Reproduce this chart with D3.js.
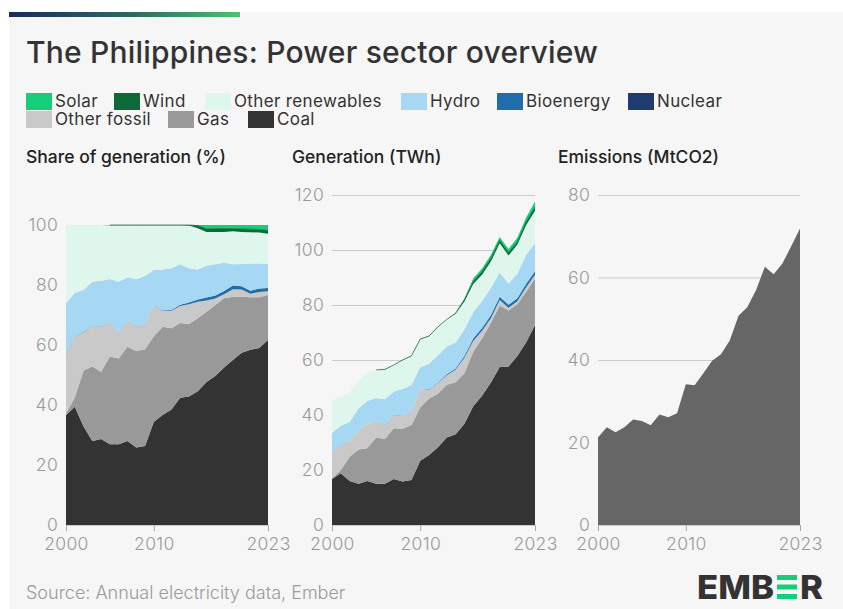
<!DOCTYPE html>
<html>
<head>
<meta charset="utf-8">
<script src="https://cdn.jsdelivr.net/npm/d3@7"></script>
<style>
  body { margin: 0; background: #fff; }
  text { font-family: Inter, "Noto Sans", sans-serif; }
</style>
</head>
<body>
<div id="chart"></div>
<script>
const years = d3.range(2000, 2024);

const keys = ["coal", "gas", "otherFossil", "nuclear", "bioenergy", "hydro", "otherRenewables", "wind", "solar"];
const colors = {
  solar: "#14cf77", wind: "#0b6a38", otherRenewables: "#def6ec", hydro: "#a6d8f3",
  bioenergy: "#1f6eab", nuclear: "#1e3c70", otherFossil: "#c9c9c9", gas: "#999999", coal: "#333333"
};
const legendRow1 = [["solar", "Solar"], ["wind", "Wind"], ["otherRenewables", "Other renewables"], ["hydro", "Hydro"], ["bioenergy", "Bioenergy"], ["nuclear", "Nuclear"]];
const legendRow2 = [["otherFossil", "Other fossil"], ["gas", "Gas"], ["coal", "Coal"]];

// share of generation (%)
const shareCoal = [36.7, 39.4, 32.8, 28.0, 28.7, 26.9, 26.9, 28.0, 25.8, 26.3, 34.4, 36.7, 38.5, 42.4, 42.8, 44.6, 47.7, 49.7, 52.5, 55.0, 57.4, 58.4, 59.0, 61.7];
const shareGas = [0.5, 3.1, 18.7, 24.8, 22.4, 29.3, 28.6, 31.4, 32.2, 32.3, 28.5, 29.4, 27.1, 24.9, 24.2, 24.3, 23.4, 23.6, 23.1, 21.1, 18.7, 17.5, 16.9, 15.0];
const shareOtherFossil = [20.0, 20.3, 12.7, 13.6, 15.0, 11.2, 8.6, 8.6, 8.1, 8.3, 10.4, 5.3, 5.8, 5.7, 6.6, 5.5, 3.7, 2.2, 1.3, 2.5, 2.4, 1.2, 1.8, 1.2];
const shareNuclear = [0, 0, 0, 0, 0, 0, 0, 0, 0, 0, 0, 0, 0, 0, 0, 0, 0, 0, 0, 0, 0, 0, 0, 0];
const shareBio = [0.1, 0.1, 0.1, 0.1, 0.1, 0.1, 0.1, 0.1, 0.1, 0.1, 0.1, 0.2, 0.3, 0.4, 0.6, 0.8, 1.0, 1.0, 1.1, 1.2, 1.1, 1.0, 1.1, 1.1];
const shareHydro = [16.6, 14.5, 14.0, 14.6, 15.2, 14.5, 16.9, 14.5, 15.7, 16.0, 11.6, 13.6, 13.9, 13.5, 11.4, 10.0, 10.6, 10.4, 9.4, 7.1, 7.4, 9.1, 8.4, 8.0];
const shareOtherRen = [26.1, 22.6, 21.7, 18.9, 18.6, 17.9, 18.8, 17.3, 18.0, 16.9, 14.9, 14.7, 14.3, 13.0, 14.2, 13.7, 11.3, 10.8, 10.3, 11.0, 10.7, 10.4, 10.3, 10.1];
const shareWind = [0, 0, 0, 0, 0, 0.1, 0.1, 0.1, 0.1, 0.1, 0.1, 0.1, 0.1, 0.1, 0.2, 0.9, 1.0, 1.1, 1.1, 0.9, 1.0, 1.0, 1.0, 1.1];
const shareSolar = [0, 0, 0, 0, 0, 0, 0, 0, 0, 0, 0, 0, 0, 0, 0, 0.2, 1.3, 1.2, 1.2, 1.2, 1.3, 1.4, 1.5, 1.8];

// generation (TWh)
const genCoal = [16.7, 18.8, 16.0, 15.0, 16.0, 15.0, 15.0, 16.7, 15.8, 16.4, 23.4, 25.5, 28.3, 31.8, 33.0, 36.8, 43.2, 47.0, 51.8, 57.5, 57.6, 61.5, 66.5, 72.7];
const genGas = [0.3, 1.2, 8.8, 12.5, 11.9, 16.8, 16.3, 18.5, 19.2, 20.0, 19.4, 20.5, 19.4, 19.2, 18.9, 18.4, 19.8, 20.8, 21.7, 22.3, 20.4, 18.8, 18.3, 16.9];
const genOtherFossil = [9.1, 9.0, 5.8, 7.1, 8.7, 6.1, 5.1, 4.8, 4.8, 4.6, 6.8, 3.2, 3.9, 3.5, 4.6, 5.6, 3.9, 2.8, 1.7, 2.0, 1.0, 1.1, 1.7, 1.4];
const genNuclear = [0, 0, 0, 0, 0, 0, 0, 0, 0, 0, 0, 0, 0, 0, 0, 0, 0, 0, 0, 0, 0, 0, 0, 0];
const genBio = [0.05, 0.05, 0.05, 0.05, 0.05, 0.05, 0.05, 0.05, 0.05, 0.05, 0.05, 0.15, 0.2, 0.3, 0.45, 0.65, 0.9, 1.0, 1.1, 1.2, 1.1, 1.1, 1.2, 1.3];
const genHydro = [7.3, 7.0, 6.8, 7.7, 8.4, 8.2, 9.3, 8.5, 9.6, 9.9, 7.7, 9.3, 9.9, 10.1, 9.4, 9.6, 9.6, 9.9, 9.9, 8.9, 7.7, 8.9, 10.6, 10.1];
const genOtherRen = [12.1, 10.4, 10.7, 10.2, 10.5, 10.2, 10.8, 9.6, 10.5, 10.5, 10.2, 10.0, 10.3, 9.8, 10.5, 10.2, 10.2, 9.5, 9.6, 10.6, 10.2, 10.6, 10.8, 11.9];
const genWind = [0, 0, 0, 0, 0, 0.05, 0.05, 0.06, 0.06, 0.06, 0.06, 0.09, 0.07, 0.07, 0.15, 0.75, 0.95, 1.1, 1.15, 1.0, 1.0, 1.0, 1.1, 1.3];
const genSolar = [0, 0, 0, 0, 0, 0, 0, 0, 0, 0, 0, 0, 0, 0, 0.02, 0.15, 1.1, 1.2, 1.2, 1.25, 1.35, 1.45, 1.6, 2.0];

// emissions (MtCO2)
const emissions = [21.2, 23.7, 22.5, 23.7, 25.6, 25.2, 24.2, 26.8, 26.1, 27.1, 34.1, 33.9, 36.8, 39.8, 41.4, 44.7, 50.7, 52.8, 57.0, 62.6, 60.8, 63.4, 67.6, 71.9];

const xTicks = [2000, 2010, 2023];
const shareTicks = [0, 20, 40, 60, 80, 100];
const genTicks = [0, 20, 40, 60, 80, 100, 120];
const emTicks = [0, 20, 40, 60, 80];

function rows(series) {
  return years.map((y, i) => {
    const r = { year: y };
    keys.forEach((k, j) => r[k] = series[j][i]);
    return r;
  });
}
const shareRows = rows([shareCoal, shareGas, shareOtherFossil, shareNuclear, shareBio, shareHydro, shareOtherRen, shareWind, shareSolar]);
const genRows = rows([genCoal, genGas, genOtherFossil, genNuclear, genBio, genHydro, genOtherRen, genWind, genSolar]);

const W = 843, H = 609;
const svg = d3.select("#chart").append("svg").attr("width", W).attr("height", H);

svg.append("rect").attr("x", 9).attr("y", 12).attr("width", W - 9).attr("height", H - 12).attr("fill", "#f6f6f6");
const grad = svg.append("defs").append("linearGradient").attr("id", "topbar");
grad.append("stop").attr("offset", "0%").attr("stop-color", "#1e2a5a");
grad.append("stop").attr("offset", "55%").attr("stop-color", "#2f6b62");
grad.append("stop").attr("offset", "100%").attr("stop-color", "#4fc173");
svg.append("rect").attr("x", 9).attr("y", 12).attr("width", 231).attr("height", 5).attr("fill", "url(#topbar)");

svg.append("text").attr("x", 26).attr("y", 63).attr("font-size", 30).attr("font-weight", 500)
  .attr("letter-spacing", 0.2).attr("fill", "#333").text("The Philippines: Power sector overview");

// legend
const legendX1 = [26, 114, 205, 401, 497, 628];
const legendX2 = [26, 168, 248];
function legendRow(items, xs, y) {
  items.forEach(([k, label], i) => {
    svg.append("rect").attr("x", xs[i]).attr("y", y).attr("width", 26).attr("height", 17).attr("fill", colors[k]);
    svg.append("text").attr("x", xs[i] + 29).attr("y", y + 14).attr("font-size", 17)
      .attr("letter-spacing", 0.35).attr("fill", "#333").text(label);
  });
}
legendRow(legendRow1, legendX1, 93);
legendRow(legendRow2, legendX2, 111);

function panel(opts) {
  const x = d3.scaleLinear().domain([2000, 2023]).range([opts.x0, opts.x1]);
  const y = d3.scaleLinear().domain([0, opts.max]).range([525, 525 - opts.h]);
  const g = svg.append("g");

  g.append("text").attr("x", opts.titleX).attr("y", 163).attr("font-size", 17.5).attr("font-weight", 500)
    .attr("fill", "#222").text(opts.title);

  const yAxis = g.append("g").attr("transform", `translate(${opts.x0},0)`)
    .call(d3.axisLeft(y).tickValues(opts.ticks).tickSize(-(opts.x1 - opts.x0)).tickPadding(8));
  yAxis.select(".domain").remove();
  yAxis.selectAll("line").attr("stroke", "#cccccc");
  yAxis.selectAll("text").attr("font-size", 17.5).attr("font-weight", 300).attr("fill", "#9a9a9a")
    .attr("letter-spacing", 0.3).attr("font-family", "Inter, sans-serif");

  opts.draw(g, x, y);

  const xAxis = g.append("g").attr("transform", "translate(0,525)")
    .call(d3.axisBottom(x).tickValues(xTicks).tickFormat(d3.format("d")).tickSize(6).tickPadding(7));
  xAxis.select(".domain").remove();
  xAxis.selectAll("line").attr("stroke", "#aaaaaa");
  xAxis.selectAll("text").attr("font-size", 17.5).attr("font-weight", 300).attr("fill", "#9a9a9a")
    .attr("letter-spacing", 0.3).attr("font-family", "Inter, sans-serif");
}

function stackedAreas(data) {
  return function (g, x, y) {
    const series = d3.stack().keys(keys)(data);
    const area = d3.area().x(d => x(d.data.year)).y0(d => y(d[0])).y1(d => y(d[1]));
    g.selectAll(".layer").data(series.filter(s => d3.max(s, d => d[1] - d[0]) > 0)).join("path")
      .attr("class", "layer")
      .attr("d", area)
      .attr("fill", s => colors[s.key]);
    // thin wind outline so small early values stay visible
    const wind = series.find(s => s.key === "wind");
    g.append("path").datum(wind)
      .attr("d", d3.line().defined(d => d[1] - d[0] > 0).x(d => x(d.data.year)).y(d => y(d[1])))
      .attr("fill", "none").attr("stroke", colors.wind).attr("stroke-width", 0.7);
  };
}

panel({ title: "Share of generation (%)", titleX: 26, x0: 66, x1: 268, max: 100, h: 300, ticks: shareTicks, draw: stackedAreas(shareRows) });
panel({ title: "Generation (TWh)", titleX: 292, x0: 332, x1: 535, max: 120, h: 330, ticks: genTicks, draw: stackedAreas(genRows) });
panel({
  title: "Emissions (MtCO2)", titleX: 558, x0: 598, x1: 800, max: 80, h: 330, ticks: emTicks,
  draw: (g, x, y) => {
    g.append("path").datum(emissions)
      .attr("d", d3.area().x((d, i) => x(years[i])).y0(y(0)).y1(d => y(d)))
      .attr("fill", "#666666");
  }
});

svg.append("text").attr("x", 26).attr("y", 599).attr("font-size", 18).attr("font-weight", 300)
  .attr("fill", "#9a9a9a").text("Source: Annual electricity data, Ember");

// logo
const logo = svg.append("g");
logo.append("text").attr("x", 697).attr("y", 599).attr("font-size", 33).attr("font-weight", 800)
  .attr("fill", "#333").attr("textLength", 77).attr("lengthAdjust", "spacingAndGlyphs").text("EMB");
[575, 584.5, 594].forEach(yy => logo.append("rect").attr("x", 777).attr("y", yy).attr("width", 20).attr("height", 5).attr("fill", "#14cf77"));
logo.append("text").attr("x", 800).attr("y", 599).attr("font-size", 33).attr("font-weight", 800)
  .attr("fill", "#333").attr("textLength", 23).attr("lengthAdjust", "spacingAndGlyphs").text("R");
</script>
</body>
</html>
